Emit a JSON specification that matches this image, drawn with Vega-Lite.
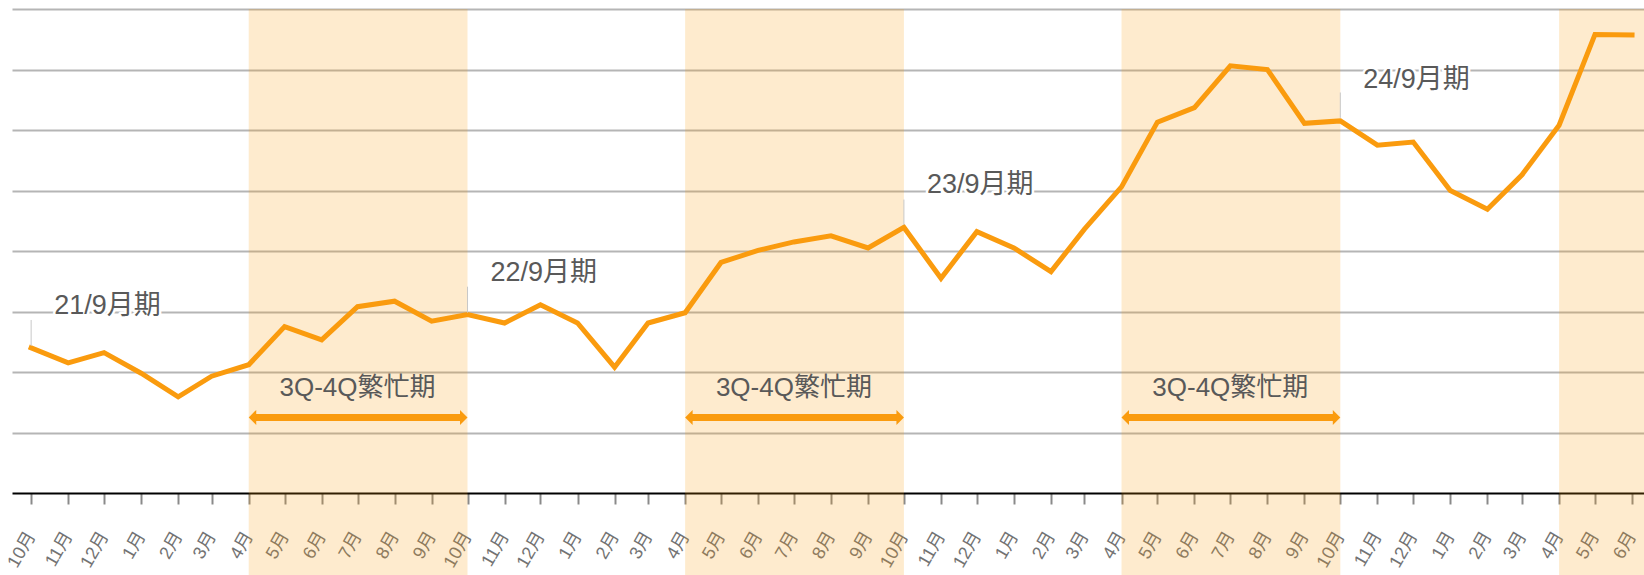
{
  "$schema": "https://vega.github.io/schema/vega-lite/v6.json",
  "width": 1632,
  "height": 484,
  "autosize": {"type": "none"},
  "padding": {"left": 12, "top": 9, "right": 0, "bottom": 82},
  "background": "white",
  "config": {
    "view": {"stroke": null},
    "font": "Liberation Sans, Noto Sans CJK JP",
    "axisY": {"zindex": 0},
    "axisX": {
      "zindex": 1,
      "grid": false,
      "domainColor": "#000000",
      "domainWidth": 2,
      "tickColor": "#8a8a8a",
      "tickWidth": 2,
      "tickSize": 11,
      "labelAngle": -60,
      "labelAlign": "right",
      "labelBaseline": "middle",
      "labelPadding": 29,
      "labelFontSize": 18,
      "labelColor": "#737373",
      "labelOverlap": false,
      "labelFlush": false,
      "labelBound": false
    }
  },
  "datasets": {
    "series": [
      {"date": "2020-10-01", "value": 24.0},
      {"date": "2020-11-01", "value": 21.5},
      {"date": "2020-12-01", "value": 23.2},
      {"date": "2021-01-01", "value": 19.8},
      {"date": "2021-02-01", "value": 15.9},
      {"date": "2021-03-01", "value": 19.3},
      {"date": "2021-04-01", "value": 21.2},
      {"date": "2021-05-01", "value": 27.5},
      {"date": "2021-06-01", "value": 25.3},
      {"date": "2021-07-01", "value": 30.8},
      {"date": "2021-08-01", "value": 31.7},
      {"date": "2021-09-01", "value": 28.4},
      {"date": "2021-10-01", "value": 29.5},
      {"date": "2021-11-01", "value": 28.1},
      {"date": "2021-12-01", "value": 31.1},
      {"date": "2022-01-01", "value": 28.1},
      {"date": "2022-02-01", "value": 20.8},
      {"date": "2022-03-01", "value": 28.1},
      {"date": "2022-04-01", "value": 29.8},
      {"date": "2022-05-01", "value": 38.1},
      {"date": "2022-06-01", "value": 40.1},
      {"date": "2022-07-01", "value": 41.5},
      {"date": "2022-08-01", "value": 42.5},
      {"date": "2022-09-01", "value": 40.5},
      {"date": "2022-10-01", "value": 43.9},
      {"date": "2022-11-01", "value": 35.5},
      {"date": "2022-12-01", "value": 43.2},
      {"date": "2023-01-01", "value": 40.5},
      {"date": "2023-02-01", "value": 36.6},
      {"date": "2023-03-01", "value": 43.6},
      {"date": "2023-04-01", "value": 50.6},
      {"date": "2023-05-01", "value": 61.3},
      {"date": "2023-06-01", "value": 63.7},
      {"date": "2023-07-01", "value": 70.6},
      {"date": "2023-08-01", "value": 70.0},
      {"date": "2023-09-01", "value": 61.1},
      {"date": "2023-10-01", "value": 61.5},
      {"date": "2023-11-01", "value": 57.5},
      {"date": "2023-12-01", "value": 58.0},
      {"date": "2024-01-01", "value": 50.0},
      {"date": "2024-02-01", "value": 46.9},
      {"date": "2024-03-01", "value": 52.6},
      {"date": "2024-04-01", "value": 60.8},
      {"date": "2024-05-01", "value": 75.8},
      {"date": "2024-06-01", "value": 75.7}
    ],
    "busy": [
      {"date": "2021-04-01", "end": "2021-10-01", "mid": "2021-07-01", "label": "3Q-4Q繁忙期"},
      {"date": "2022-04-01", "end": "2022-10-01", "mid": "2022-07-01", "label": "3Q-4Q繁忙期"},
      {"date": "2023-04-01", "end": "2023-10-01", "mid": "2023-07-01", "label": "3Q-4Q繁忙期"},
      {"date": "2024-04-01", "end": "2024-10-01", "mid": "2024-07-01", "label": ""}
    ],
    "fy": [
      {"date": "2020-10-01", "label": "21/9月期", "from": 24.3, "to": 28.6, "at": 30.9},
      {"date": "2021-10-01", "label": "22/9月期", "from": 29.8, "to": 34.1, "at": 36.3},
      {"date": "2022-10-01", "label": "23/9月期", "from": 44.3, "to": 48.5, "at": 50.9},
      {"date": "2023-10-01", "label": "24/9月期", "from": 62.0, "to": 66.2, "at": 68.3}
    ]
  },
  "encoding": {
    "x": {
      "field": "date",
      "type": "temporal",
      "title": null,
      "scale": {
        "type": "utc",
        "domain": [
          {"year": 2020, "month": 9, "date": 15, "utc": true},
          {"year": 2024, "month": 6, "date": 11, "utc": true}
        ]
      },
      "axis": {
        "orient": "bottom",
        "labelPadding": 29,
        "labelFontSize": 18,
        "labelExpr": "utcFormat(datum.value, '%-m') + '月'",
        "tickCount": {"interval": "month", "step": 1}
      }
    }
  },
  "layer": [
    {
      "data": {"name": "busy"},
      "mark": {"type": "rect", "color": "#F99B0C", "opacity": 0.2},
      "encoding": {
        "x2": {"field": "end"},
        "y": {
          "datum": 80,
          "type": "quantitative",
          "title": null,
          "scale": {"domain": [0, 80], "nice": false, "zero": false},
          "axis": {
            "grid": true,
            "gridColor": "#b5b5b5",
            "gridWidth": 2,
            "labels": false,
            "ticks": false,
            "domain": false,
            "values": [10, 20, 30, 40, 50, 60, 70, 80]
          }
        },
        "y2": {"datum": -14}
      }
    },
    {
      "data": {"name": "series"},
      "mark": {"type": "line", "color": "#FA9B0E", "strokeWidth": 5, "strokeCap": "square"},
      "encoding": {
        "y": {"field": "value", "type": "quantitative", "title": null, "scale": {"domain": [0, 80], "nice": false, "zero": false}}
      }
    },
    {
      "data": {"name": "fy"},
      "mark": {"type": "rule", "color": "#c8c8c8", "strokeWidth": 1},
      "encoding": {
        "y": {"field": "from", "type": "quantitative", "title": null, "scale": {"domain": [0, 80], "nice": false, "zero": false}},
        "y2": {"field": "to"}
      }
    },
    {
      "data": {"name": "fy"},
      "mark": {"type": "text", "align": "left", "baseline": "middle", "dx": 23, "fontSize": 27, "font": "Liberation Sans, Noto Sans CJK JP", "fill": "white", "stroke": "white", "strokeWidth": 5, "strokeJoin": "round"},
      "encoding": {
        "y": {"field": "at", "type": "quantitative", "title": null, "scale": {"domain": [0, 80], "nice": false, "zero": false}},
        "text": {"field": "label"}
      }
    },
    {
      "data": {"name": "fy"},
      "mark": {"type": "text", "align": "left", "baseline": "middle", "dx": 23, "fontSize": 27, "font": "Liberation Sans, Noto Sans CJK JP", "color": "#595959"},
      "encoding": {
        "y": {"field": "at", "type": "quantitative", "title": null, "scale": {"domain": [0, 80], "nice": false, "zero": false}},
        "text": {"field": "label"}
      }
    },
    {
      "data": {"name": "busy"},
      "transform": [{"filter": "datum.label != ''"}],
      "mark": {"type": "rule", "color": "#FA9B0E", "strokeWidth": 7, "xOffset": 5, "x2Offset": -5},
      "encoding": {
        "x2": {"field": "end"},
        "y": {"datum": 12.5, "type": "quantitative", "title": null, "scale": {"domain": [0, 80], "nice": false, "zero": false}}
      }
    },
    {
      "data": {"name": "busy"},
      "transform": [{"filter": "datum.label != ''"}],
      "mark": {"type": "point", "filled": true, "color": "#FA9B0E", "opacity": 1, "size": 225, "strokeWidth": 0, "shape": "M 0 0 L 1 -1 L 1 1 Z"},
      "encoding": {
        "y": {"datum": 12.5, "type": "quantitative", "title": null, "scale": {"domain": [0, 80], "nice": false, "zero": false}}
      }
    },
    {
      "data": {"name": "busy"},
      "transform": [{"filter": "datum.label != ''"}],
      "mark": {"type": "point", "filled": true, "color": "#FA9B0E", "opacity": 1, "size": 225, "strokeWidth": 0, "shape": "M 0 0 L -1 -1 L -1 1 Z"},
      "encoding": {
        "x": {"field": "end", "type": "temporal"},
        "y": {"datum": 12.5, "type": "quantitative", "title": null, "scale": {"domain": [0, 80], "nice": false, "zero": false}}
      }
    },
    {
      "data": {"name": "busy"},
      "transform": [{"filter": "datum.label != ''"}],
      "mark": {"type": "text", "align": "center", "baseline": "middle", "fontSize": 26, "font": "Liberation Sans, Noto Sans CJK JP", "color": "#595959"},
      "encoding": {
        "x": {"field": "mid", "type": "temporal"},
        "y": {"datum": 17.4, "type": "quantitative", "title": null, "scale": {"domain": [0, 80], "nice": false, "zero": false}},
        "text": {"field": "label"}
      }
    }
  ]
}
